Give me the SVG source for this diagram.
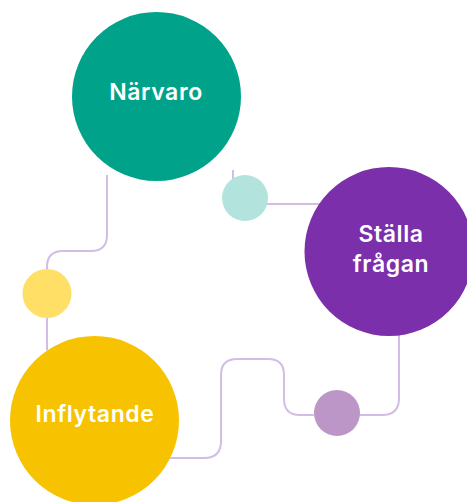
<svg xmlns="http://www.w3.org/2000/svg" width="467" height="502" viewBox="0 0 467 502">
<style>
.c{fill:none;stroke:#d2bde6;stroke-width:2}
.t{fill:#fff;font-family:Inter,"Liberation Sans",sans-serif;font-weight:600;font-size:23px;letter-spacing:0.6px;text-anchor:middle}
</style>
<rect width="467" height="502" fill="#fff"/>
<g id="connectors">
<path class="c" d="M107 175 V235 Q107 251 91 251 H63 Q47 251 47 267 V350"/>
<path class="c" d="M233 170 V200"/>
<path class="c" d="M262 204 H322"/>
<path class="c" d="M399 330 V398 Q399 415 382 415 H358"/>
<path class="c" d="M314 415 H300 Q284 415 284 399 V375 Q284 359 268 359 H237 Q221 359 221 375 V441 Q221 458 204 458 H170"/>
</g>
<g id="narvaro">
<circle cx="156.5" cy="96.5" r="84.5" fill="#00a38a"/>
<text class="t" x="156" y="100">Närvaro</text>
</g>
<g id="dot-teal"><circle cx="245" cy="198" r="23" fill="#b2e3dc"/></g>
<g id="stalla">
<circle cx="389" cy="251.5" r="84.5" fill="#7b2fab"/>
<text class="t" x="391" y="242">Ställa</text>
<text class="t" x="391" y="272">frågan</text>
</g>
<g id="dot-yellow"><circle cx="47" cy="293.5" r="24.5" fill="#ffdf66"/></g>
<g id="dot-purple"><circle cx="337" cy="413" r="23" fill="#bb96c6"/></g>
<g id="inflytande">
<circle cx="94.5" cy="420.5" r="84.5" fill="#f7c300"/>
<text class="t" x="95" y="422">Inflytande</text>
</g>
</svg>
